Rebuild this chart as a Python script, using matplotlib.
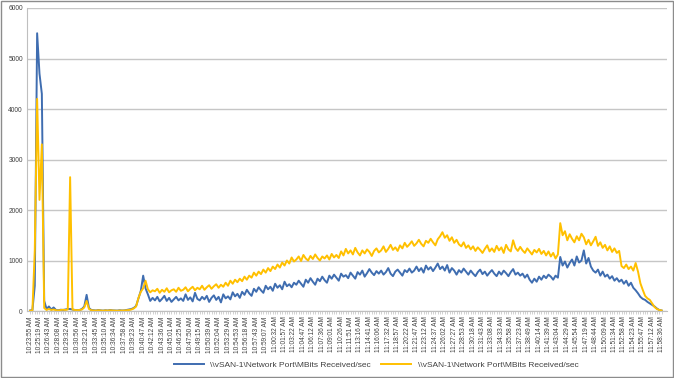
import numpy as np
import matplotlib.pyplot as plt
from matplotlib.patches import Rectangle

plt.rcParams['font.family'] = ['Liberation Sans', 'DejaVu Sans']

times = ['10:23:55 AM', '10:25:19 AM', '10:26:43 AM', '10:28:08 AM', '10:29:32 AM', '10:30:56 AM',
         '10:32:21 AM', '10:33:45 AM', '10:35:10 AM', '10:36:34 AM', '10:37:58 AM', '10:39:23 AM',
         '10:40:47 AM', '10:42:12 AM', '10:43:36 AM', '10:45:01 AM', '10:46:25 AM', '10:47:50 AM',
         '10:49:15 AM', '10:50:39 AM', '10:52:04 AM', '10:53:29 AM', '10:54:53 AM', '10:56:18 AM',
         '10:57:43 AM', '10:59:07 AM', '11:00:32 AM', '11:01:57 AM', '11:03:22 AM', '11:04:47 AM',
         '11:06:12 AM', '11:07:36 AM', '11:09:01 AM', '11:10:26 AM', '11:11:51 AM', '11:13:16 AM',
         '11:14:41 AM', '11:16:06 AM', '11:17:32 AM', '11:18:57 AM', '11:20:22 AM', '11:21:47 AM',
         '11:23:12 AM', '11:24:37 AM', '11:26:02 AM', '11:27:27 AM', '11:28:53 AM', '11:30:18 AM',
         '11:31:43 AM', '11:33:08 AM', '11:34:33 AM', '11:35:58 AM', '11:37:23 AM', '11:38:49 AM',
         '11:40:14 AM', '11:41:39 AM', '11:43:04 AM', '11:44:29 AM', '11:45:54 AM', '11:47:19 AM',
         '11:48:44 AM', '11:50:09 AM', '11:51:34 AM', '11:52:58 AM', '11:54:23 AM', '11:55:47 AM',
         '11:57:12 AM', '11:58:36 AM']

# MBits received per sample (4 samples per labelled timestamp)
blue = [10, 20, 500, 5500, 4700, 4300, 200, 40,
        90, 30, 70, 20, 15, 25, 20, 30, 40,
        40, 30, 20, 15, 20, 40, 90, 320, 60, 20,
        15, 10, 20, 12, 8, 15, 10, 20, 12, 10, 8, 15, 10, 12, 20, 30, 40, 60,
        100, 250, 400, 700, 450, 330, 200, 260,
        210, 280, 190, 240, 300, 200, 260, 180, 230, 280, 210, 250,
        200, 330, 220, 270, 190, 360, 240, 210, 280, 230, 300, 180,
        260, 310, 220, 280, 170, 330, 250, 290, 230, 370, 290, 340,
        260, 380, 320, 420, 350, 300, 440, 380, 470, 410, 360, 500,
        430, 480, 400, 540, 460, 510, 430, 580, 490, 530, 470, 560,
        520, 600, 540, 480, 620, 560, 650, 580, 520, 640, 590, 680,
        610, 560, 700, 640, 720, 660, 600, 740, 680, 710, 650, 760,
        700, 640, 770, 720, 800, 680, 750, 830, 760, 710, 790, 740,
        800, 720, 770, 850, 740, 690, 780, 820, 760, 700, 810, 770,
        840, 760, 800, 880, 790, 850, 760, 900, 820, 870, 790, 860,
        940, 830, 880, 800, 910, 760, 850, 800, 720, 810, 760, 840,
        780, 720, 800, 740, 690, 770, 820, 730, 780, 700, 760, 810,
        740, 690, 780, 720, 800, 750, 690, 770, 830, 720, 760, 700,
        740, 660, 720, 620, 560, 640, 580, 680, 620, 700, 650, 720,
        680, 620, 700, 660, 1070, 900, 980, 860, 950, 1020, 900, 1080,
        960, 1000, 1200, 940, 1050, 880, 800, 760, 820, 700, 780, 680,
        720, 640, 690, 600, 650, 580, 620, 540, 600, 500, 560, 460,
        410, 350, 280, 240, 220, 180, 150, 120, 90, 50, 20, 10]

yellow = [5, 10, 1200, 4200, 2200, 3300, 60, 20,
          40, 20, 30, 15, 10, 20, 25, 20, 30,
          2650, 30, 20, 15, 20, 30, 70, 200, 40, 15,
          10, 8, 15, 10, 5, 12, 8, 15, 10, 8, 5, 10, 8, 10, 15, 20, 30, 50,
          90, 260, 380, 450, 600, 430, 370, 410,
          390, 440, 360, 420, 380, 450, 370, 410, 430, 380, 460, 400,
          420, 470, 390, 440, 480, 410, 460, 430, 500, 420, 470, 510,
          440, 490, 530, 460, 520, 480, 560, 500, 600, 540, 620, 570,
          640, 590, 680, 620, 700, 660, 760, 700, 780, 730, 820, 760,
          850, 790, 880, 830, 920, 860, 960, 900, 1000, 940, 1060, 980,
          1020, 1080, 990, 1110, 1040, 1000, 1090, 1030, 1120, 1050, 1000, 1080,
          1040, 1100, 1020, 1130, 1060, 1110, 1050, 1180, 1100, 1230, 1140, 1200,
          1120, 1250, 1160, 1100, 1200, 1140, 1220, 1170, 1090, 1190, 1240, 1160,
          1200, 1280, 1170, 1230, 1310, 1210, 1260, 1190, 1300, 1240, 1350, 1270,
          1320, 1380, 1290, 1340, 1410, 1330, 1280, 1390, 1350, 1430, 1360, 1300,
          1420, 1480, 1560, 1450, 1500, 1390, 1460, 1350, 1410, 1320, 1280, 1360,
          1250, 1300, 1220, 1280, 1190, 1260, 1210, 1150, 1230, 1300, 1180, 1240,
          1170, 1290, 1200, 1260, 1150, 1310, 1220, 1180, 1400, 1250, 1190, 1270,
          1200, 1150, 1240, 1180, 1120, 1210, 1160, 1230, 1130, 1190, 1100, 1180,
          1080, 1150, 1040, 1120, 1740, 1500, 1580, 1400, 1520, 1430, 1360, 1480,
          1400, 1530, 1460, 1320, 1410, 1300, 1380, 1470, 1290, 1360, 1250, 1310,
          1200, 1280, 1170, 1240, 1150, 1190, 890, 850, 920, 830, 880, 800,
          950, 780, 550, 420, 300, 250, 220, 150, 80, 40, 20, 10]

label = r'\\vSAN-1\Network Port\MBits Received/sec'

x = np.arange(len(blue))

fig = plt.figure(figsize=(6.74, 3.78), dpi=100)
ax = fig.add_axes([27 / 674, 1 - 311 / 378, 640 / 674, 303 / 378])

ax.plot(x, blue, color='#3F6DB0', lw=1.4, label=label)
ax.plot(x, yellow, color='#FFC000', lw=1.4, label=label)

ax.set_xlim(-1.3, 270.3)
ax.set_ylim(0, 6000)
ax.set_yticks(range(0, 6001, 1000))
ax.set_xticks(np.arange(0, len(blue), 4))
ax.set_xticklabels(times, rotation=90, fontsize=4.7, color='#404040')
ax.set_xticks(x, minor=True)
ax.tick_params(axis='y', length=0, labelsize=4.8, labelcolor='#404040', pad=3)
ax.tick_params(axis='x', which='both', length=2, width=0.5, color='#BFBFBF', pad=2)

ax.grid(axis='y', color='#C6C6C6', lw=1.0)
ax.set_axisbelow(True)
for s in ['top', 'right']:
    ax.spines[s].set_visible(False)
ax.spines['left'].set_color('#BFBFBF')
ax.spines['bottom'].set_color('#BFBFBF')

fig.legend(loc='center', bbox_to_anchor=(376 / 674, 1 - 365 / 378), ncol=2, frameon=False,
           fontsize=6, handlelength=3.6, columnspacing=1.2, labelcolor='#404040')

fig.patches.append(Rectangle((0.001, 0.002), 0.997, 0.995, transform=fig.transFigure,
                             fill=False, edgecolor='#8C8C8C', lw=1))

fig.savefig('out.png', dpi=100)
